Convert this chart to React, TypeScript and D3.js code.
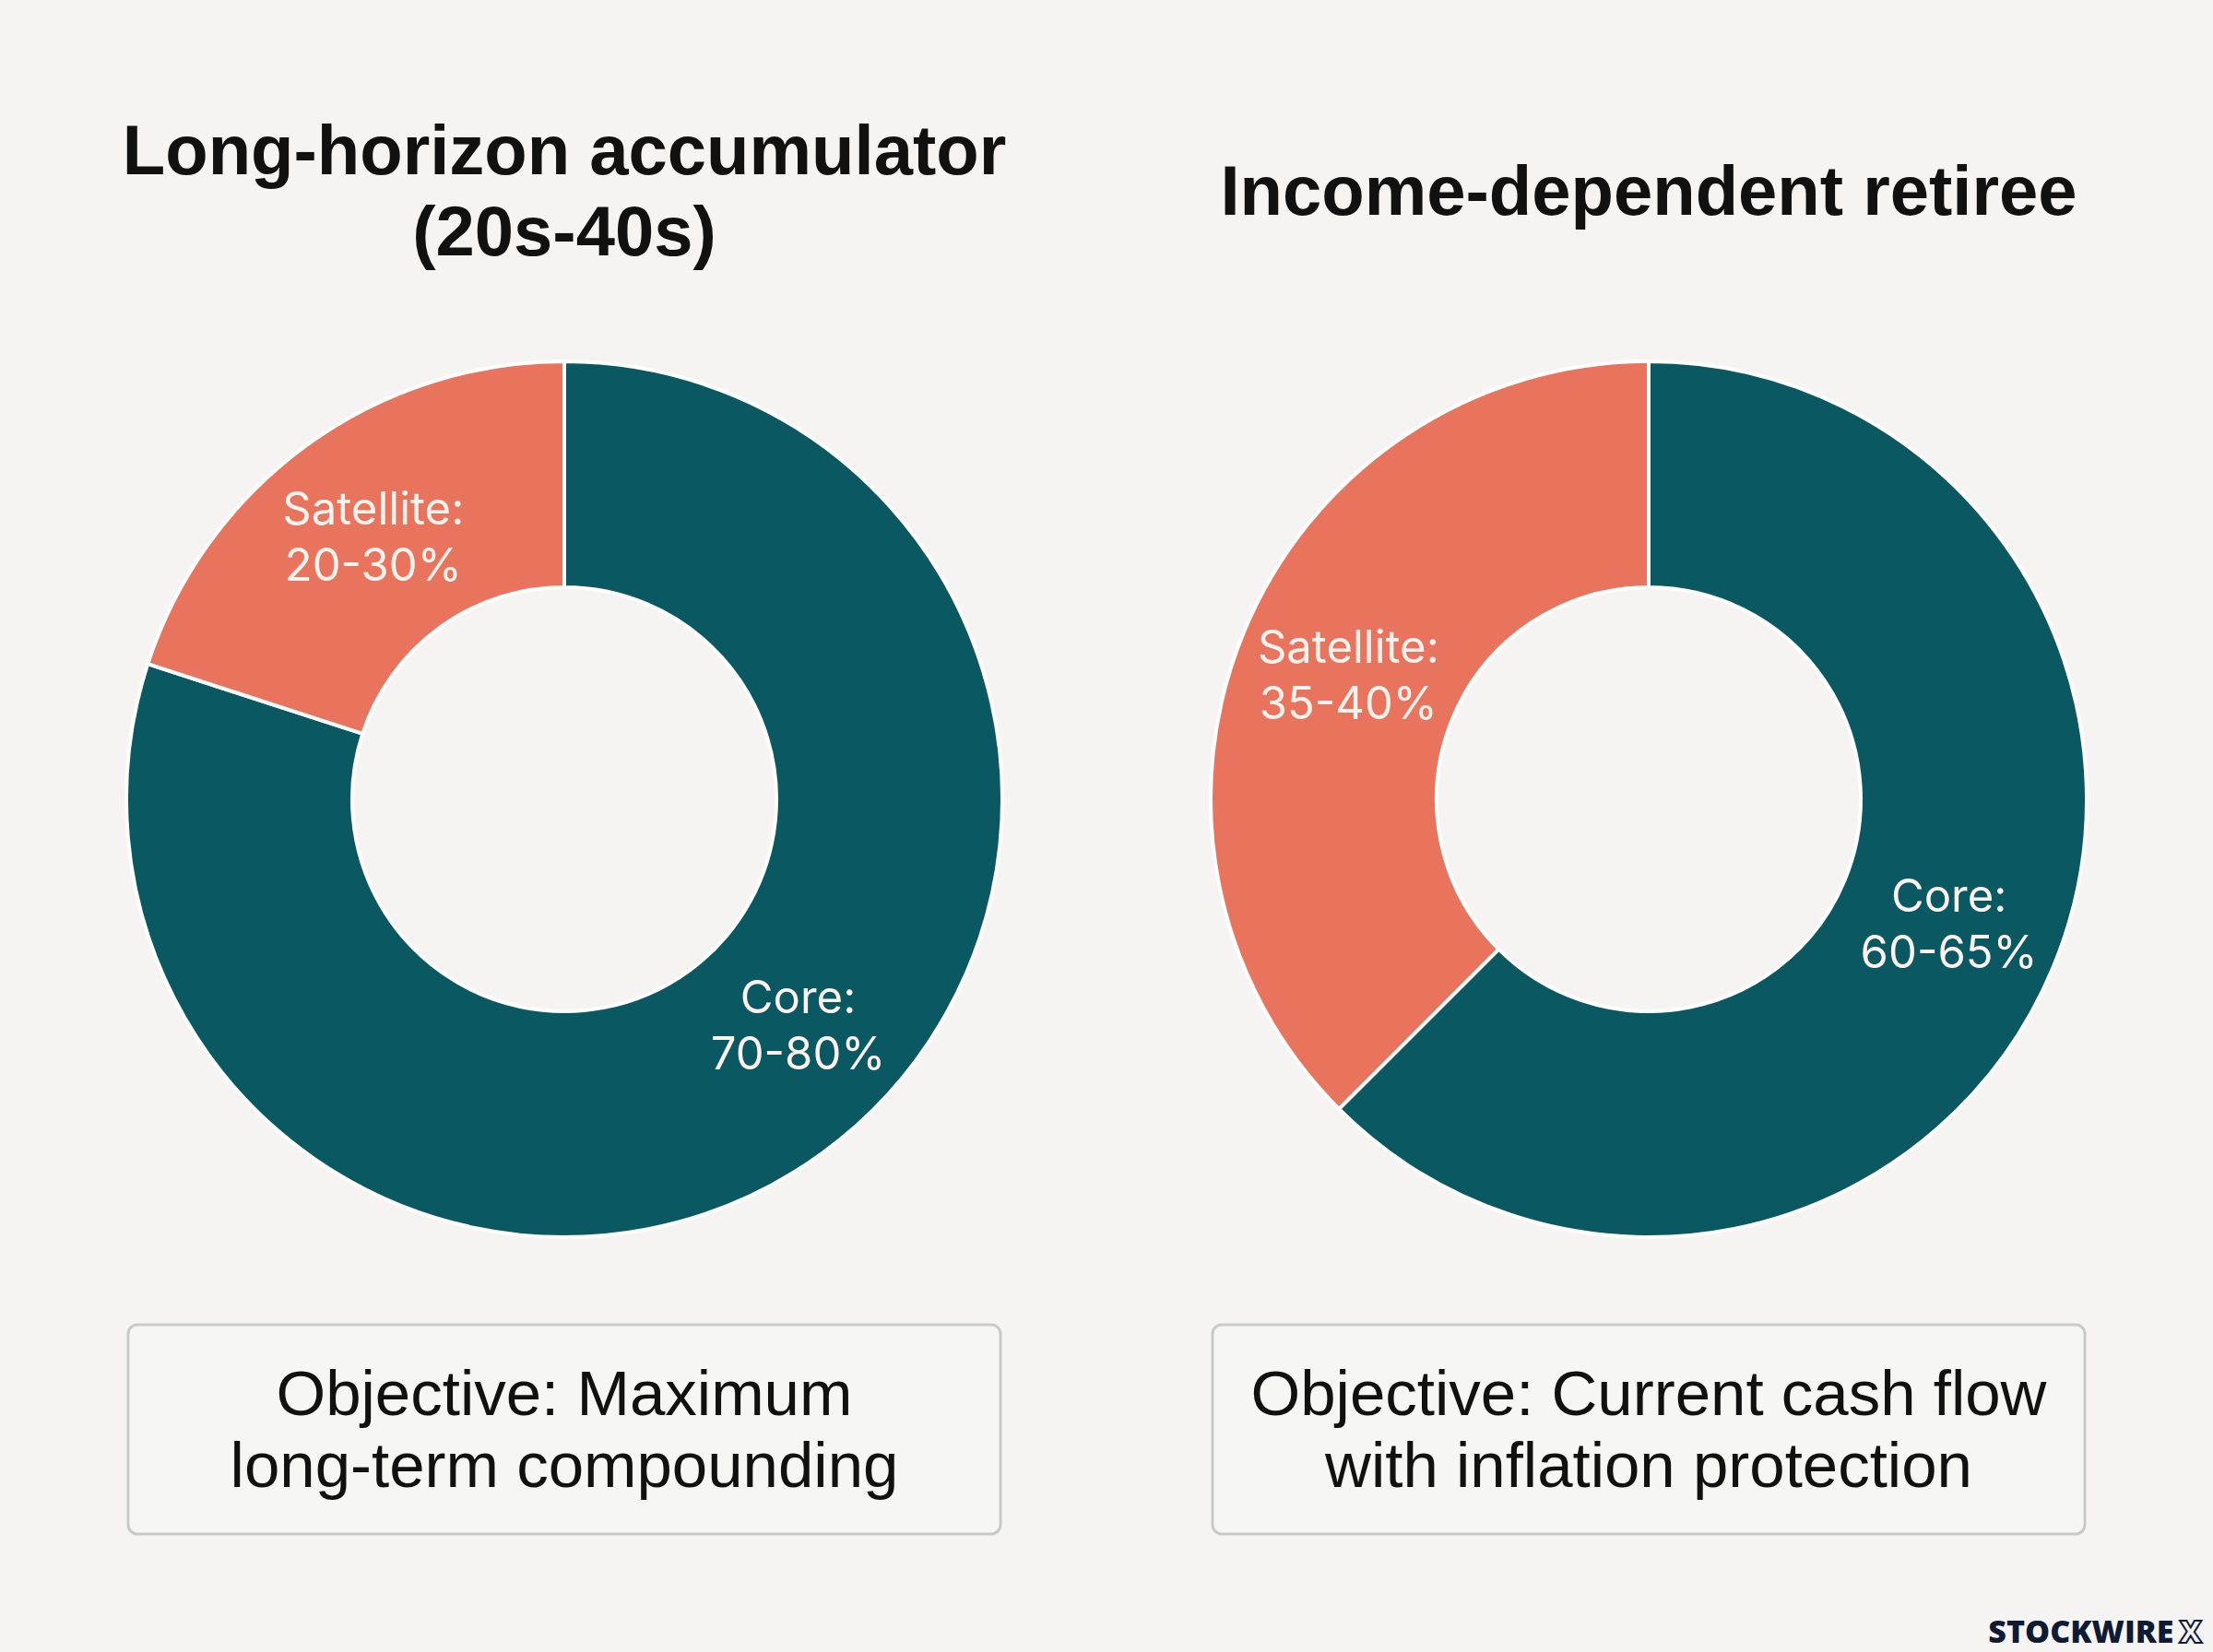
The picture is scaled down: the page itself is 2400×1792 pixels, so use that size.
import React from 'react';
import * as d3 from 'd3';

// two allocation donuts
const titleLines = [['Long-horizon accumulator', '(20s-40s)'], ['Income-dependent retiree']];
const segments = ['Core', 'Satellite'];
const coreShare = [80, 62.5];
const satelliteShare = [20, 37.5];
const coreLabels = ['70-80%', '60-65%'];
const satelliteLabels = ['20-30%', '35-40%'];
const objectives = [
  ['Objective: Maximum', 'long-term compounding'],
  ['Objective: Current cash flow', 'with inflation protection'],
];

const W = 2400;
const H = 1792;
const BG = '#f5f4f2';
const colors = d3.scaleOrdinal<string, string>().domain(segments).range(['#0a5862', '#e8745d']);
// label angle tweak per panel / slice (degrees), the original doesn't sit exactly on the centroid
const labelNudge = [[-10, 0], [0, 0]];

export default function App() {
  const x = d3.scalePoint<number>().domain([0, 1]).range([612, 1788]);
  const cy = 867;
  const outerR = 475;
  const innerR = 230;
  const midR = (outerR + innerR) / 2;
  const arc = d3.arc<d3.PieArcDatum<number>>().innerRadius(innerR).outerRadius(outerR);
  const pie = d3.pie<number>().sort(null).value((d) => d);

  return (
    <svg width={W} height={H} style={{ position: 'absolute', left: 0, top: 0, background: BG }}>
      <rect width={W} height={H} fill={BG} />
      {[0, 1].map((i) => {
        const cx = x(i)!;
        const slices = pie([coreShare[i], satelliteShare[i]]);
        const labels = [coreLabels[i], satelliteLabels[i]];
        const lines = titleLines[i];
        const firstBase = 233 - ((lines.length - 1) * 88) / 2;
        return (
          <g key={i}>
            {lines.map((t, k) => (
              <text key={k} x={cx} y={firstBase + k * 88} textAnchor="middle"
                fontFamily="'Liberation Sans', Arial, sans-serif" fontWeight={700} fontSize={76} fill="#111">
                {t}
              </text>
            ))}
            <g transform={`translate(${cx},${cy})`}>
              {slices.map((s, k) => (
                <path key={k} d={arc(s)!} fill={colors(segments[k])} stroke="#ffffff" strokeWidth={4} strokeLinejoin="round" />
              ))}
              {slices.map((s, k) => {
                const a = (s.startAngle + s.endAngle) / 2 + (labelNudge[i][k] * Math.PI) / 180;
                const lx = midR * Math.sin(a);
                const ly = -midR * Math.cos(a);
                return (
                  <text key={'l' + k} x={lx} y={ly} textAnchor="middle" fontFamily="Inter, sans-serif"
                    fontSize={49} fill="#fdf3ee">
                    <tspan x={lx} dy={-13}>{segments[k] + ':'}</tspan>
                    <tspan x={lx} dy={61}>{labels[k]}</tspan>
                  </text>
                );
              })}
            </g>
            <rect x={cx - 473} y={1437} width={946} height={227} rx={10} fill="#f6f6f4" stroke="#c9c9c9" strokeWidth={3} />
            {objectives[i].map((t, k) => (
              <text key={'o' + k} x={cx} y={1535 + k * 78} textAnchor="middle"
                fontFamily="'Liberation Sans', Arial, sans-serif" fontSize={69} fill="#111">
                {t}
              </text>
            ))}
          </g>
        );
      })}
      <text x={2388} y={1782} textAnchor="end" fontFamily="'Open Sans', sans-serif" fontWeight={800} fontSize={34} fill="#0f1a33">
        STOCKWIRE<tspan dx={6} fill={BG} stroke="#0f1a33" strokeWidth={2}>X</tspan>
      </text>
    </svg>
  );
}
